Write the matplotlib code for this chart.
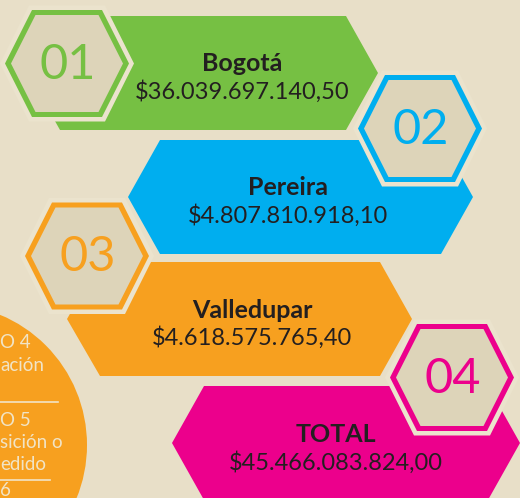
import matplotlib
matplotlib.use("Agg")
import matplotlib.pyplot as plt
from matplotlib.patches import Polygon, Circle

# ---- data ----
cities = ["Bogotá", "Pereira", "Valledupar", "TOTAL"]
amounts = [36039697140.50, 4807810918.10, 4618575765.40, 45466083824.00]
badges = ["01", "02", "03", "04"]
colors = ["#76c043", "#00aeef", "#f7a01f", "#ec008c"]
side_lines = ["O 4", "ación", "O 5", "sición o", "edido", "6"]

BG = "#e8dfc8"
GAP = "#ebe3cd"
HEXFILL = "#ddd4b9"
TXT = "#231f20"
FONT = ["Lato", "DejaVu Sans"]


def fmt(v):
    s = f"{v:,.2f}"
    s = s.replace(",", "X").replace(".", ",").replace("X", ".")
    return "$" + s


W, H = 520, 498
fig = plt.figure(figsize=(W / 100, H / 100), dpi=100)
fig.patch.set_facecolor(BG)
ax = fig.add_axes([0, 0, 1, 1])
ax.set_xlim(0, W)
ax.set_ylim(H, 0)
ax.axis("off")
ax.set_facecolor(BG)

# banner geometry: (x_left_point, x_left_flat, x_right_flat, x_right_point, y_top, y_bottom)
banners = [
    (28, 60, 346, 378, 16, 130),
    (128, 160, 441, 473, 140, 254),
    (67, 100, 380, 412, 262, 376),
    (172, 204, 488, 520, 386, 500),
]
# hexagon badges: (cx, cy)
hexes = [(67, 63.5), (420, 128.5), (87, 256), (452, 377.5)]
text_cx = [242, 288, 252, 336]
title_y = [63, 187, 310, 434]
amount_y = [92, 216, 338, 463]


def hexpts(cx, cy, hw, th, hh):
    return [(cx - hw, cy), (cx - th, cy - hh), (cx + th, cy - hh),
            (cx + hw, cy), (cx + th, cy + hh), (cx - th, cy + hh)]


# side circle
ax.add_patch(Circle((-54, 445), 141, facecolor="#f7a01f", edgecolor="none", zorder=1))
side_y = [342, 365, 420, 442, 464, 490]
for s, y in zip(side_lines, side_y):
    ax.text(0, y, s, color="#f1e4c6", fontsize=13.5, family=FONT, va="center", ha="left", zorder=2)
ax.plot([0, 58], [402, 402], color="#f1e4c6", lw=1.2, zorder=2)
ax.plot([0, 50], [480, 480], color="#f1e4c6", lw=1.2, zorder=2)

for i in range(4):
    xl, xf, xr, xp, yt, yb = banners[i]
    ym = (yt + yb) / 2
    pts = [(xl, ym), (xf, yt), (xr, yt), (xp, ym), (xr, yb), (xf, yb)]
    z = 3 + i * 3
    ax.add_patch(Polygon(pts, closed=True, facecolor=colors[i], edgecolor="none", zorder=z))
    ax.text(text_cx[i], title_y[i], cities[i], color=TXT, fontsize=18, fontweight="bold",
            family=FONT, ha="center", va="center", zorder=z + 2)
    ax.text(text_cx[i], amount_y[i], fmt(amounts[i]), color=TXT, fontsize=17,
            family=FONT, ha="center", va="center", zorder=z + 2)

    cx, cy = hexes[i]
    hz = z + 1
    ax.add_patch(Polygon(hexpts(cx, cy, 62 + 5, 35 + 3, 53.5 + 4.5), closed=True,
                         facecolor=GAP, edgecolor="none", zorder=hz))
    ax.add_patch(Polygon(hexpts(cx, cy, 62, 35, 53.5), closed=True,
                         facecolor=colors[i], edgecolor="none", zorder=hz + 0.1))
    ax.add_patch(Polygon(hexpts(cx, cy, 56, 31.5, 48.5), closed=True,
                         facecolor=HEXFILL, edgecolor="none", zorder=hz + 0.2))
    ax.text(cx + 1, cy + 1, badges[i], color=colors[i], fontsize=35, fontweight="normal",
            family=FONT, ha="center", va="center", zorder=hz + 0.3)

fig.savefig("out.png", dpi=100, facecolor=BG)
